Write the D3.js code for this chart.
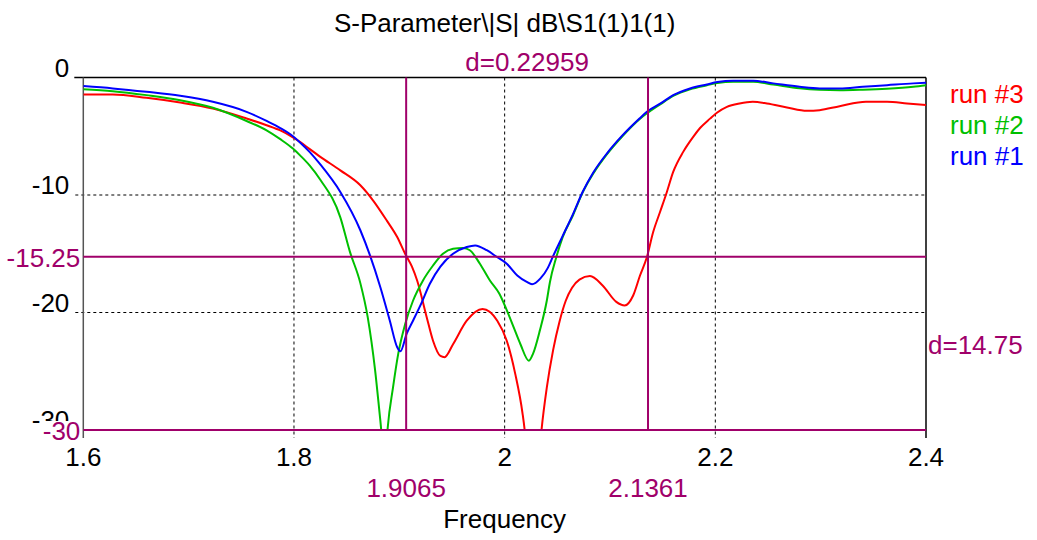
<!DOCTYPE html>
<html>
<head>
<meta charset="utf-8">
<script src="https://cdn.jsdelivr.net/npm/d3@7"></script>
<style>
    body { margin: 0; background: #fff; }
    svg text { font-family: "Liberation Sans", Arial, sans-serif; font-size: 26px; }
    .grid { stroke: #000; stroke-width: 1; stroke-dasharray: 3,3; }
    .curve { fill: none; stroke-width: 2; }
    .marker { stroke: #a0006a; stroke-width: 2; }
    .mlabel { fill: #a0006a; }
</style>
</head>
<body>
<div id="chart"></div>
<script>
/*global d3*/

var freq1 = [1.600, 1.628, 1.660, 1.692, 1.723, 1.755, 1.774, 1.787, 1.799, 1.806, 1.815, 1.825, 1.844, 1.863, 1.872, 1.882, 1.891, 1.898, 1.901, 1.907, 1.913, 1.920, 1.929, 1.939, 1.951, 1.964, 1.972, 1.983, 1.993, 2.002, 2.012, 2.021, 2.026, 2.034, 2.041, 2.046, 2.055, 2.065, 2.074, 2.084, 2.097, 2.112, 2.128, 2.135, 2.148, 2.160, 2.176, 2.192, 2.202, 2.217, 2.236, 2.255, 2.280, 2.299, 2.318, 2.340, 2.363, 2.388, 2.400];
var run1 = [-0.73, -0.93, -1.22, -1.56, -2.07, -2.92, -3.7, -4.3, -5.0, -5.55, -6.35, -7.4, -9.74, -13.0, -15.1, -17.85, -20.7, -22.96, -23.3, -21.8, -20.7, -19.4, -17.55, -16.1, -15.0, -14.43, -14.29, -14.7, -15.3, -15.85, -16.85, -17.4, -17.6, -17.1, -16.2, -15.2, -13.5, -11.6, -9.74, -8.1, -6.47, -4.91, -3.49, -2.92, -2.21, -1.5, -0.93, -0.59, -0.39, -0.28, -0.28, -0.5, -0.79, -0.93, -0.93, -0.79, -0.65, -0.5, -0.45];

var freq2 = [1.600, 1.628, 1.660, 1.692, 1.723, 1.755, 1.774, 1.787, 1.799, 1.806, 1.815, 1.825, 1.844, 1.853, 1.863, 1.870, 1.877, 1.882, 1.8865, 1.889, 1.894, 1.899, 1.9055, 1.913, 1.9225, 1.932, 1.9414, 1.951, 1.9604, 1.967, 1.9765, 1.986, 1.995, 2.002, 2.0085, 2.015, 2.023, 2.027, 2.0335, 2.040, 2.043, 2.049, 2.055, 2.065, 2.074, 2.084, 2.097, 2.112, 2.128, 2.148, 2.160, 2.176, 2.192, 2.202, 2.217, 2.236, 2.255, 2.280, 2.299, 2.318, 2.340, 2.363, 2.388, 2.400];
var run2 = [-0.99, -1.16, -1.5, -1.93, -2.58, -3.7, -4.5, -5.25, -6.05, -6.65, -7.5, -8.7, -11.9, -14.8, -17.5, -20.4, -24.9, -29.2, -33, -29.8, -26.4, -23.5, -21.0, -19.0, -17.27, -16.0, -15.0, -14.57, -14.5, -14.7, -15.85, -17.27, -18.4, -19.8, -21.25, -22.7, -24.1, -23.5, -21.5, -19.0, -17.4, -15.3, -13.6, -11.7, -9.8, -8.2, -6.55, -4.98, -3.55, -2.27, -1.57, -1.0, -0.66, -0.47, -0.36, -0.37, -0.6, -0.92, -1.05, -1.09, -1.04, -0.95, -0.78, -0.65];

var freq3 = [1.600, 1.628, 1.660, 1.692, 1.723, 1.755, 1.774, 1.787, 1.799, 1.806, 1.815, 1.825, 1.844, 1.863, 1.875, 1.888, 1.898, 1.9055, 1.912, 1.917, 1.926, 1.932, 1.939, 1.943, 1.951, 1.964, 1.979, 1.993, 2.002, 2.010, 2.017, 2.019, 2.022, 2.027, 2.032, 2.035, 2.040, 2.046, 2.052, 2.058, 2.064, 2.071, 2.081, 2.093, 2.106, 2.114, 2.122, 2.1285, 2.135, 2.141, 2.1475, 2.154, 2.160, 2.1695, 2.179, 2.1855, 2.195, 2.2015, 2.211, 2.223, 2.2355, 2.249, 2.268, 2.287, 2.299, 2.318, 2.343, 2.363, 2.382, 2.400];
var run3 = [-1.44, -1.44, -1.73, -2.13, -2.64, -3.49, -4.06, -4.5, -5.1, -5.5, -6.1, -6.75, -7.9, -9.17, -10.45, -12.16, -13.58, -15.0, -16.1, -17.3, -20.4, -22.4, -23.7, -23.8, -22.7, -20.7, -19.7, -20.7, -22.4, -25.2, -28.6, -30, -33, -38, -33, -30, -26.4, -23.2, -20.8, -19.0, -17.9, -17.2, -16.9, -17.7, -19.1, -19.4, -18.55, -16.85, -15.3, -13.15, -11.45, -9.74, -8.04, -6.33, -5.05, -4.3, -3.5, -3.0, -2.5, -2.21, -2.07, -2.21, -2.55, -2.84, -2.78, -2.44, -2.07, -2.07, -2.21, -2.35];

var seriesNames = ["run #3", "run #2", "run #1"];
var seriesColors = ["#ff0000", "#00c000", "#0000ff"];
var xTicks = [1.6, 1.8, 2, 2.2, 2.4];
var yTicks = [0, -10, -20, -30];
var markerFreqs = [1.9065, 2.1361];
var markerLevels = [-15.25, -30];
var deltaFreq = "d=0.22959";
var deltaLevel = "d=14.75";

(function () {
    "use strict";

    var width = 1037,
        height = 540,
        left = 83.3,
        right = 926,
        top = 77.5,
        bottom = 430,

        x = d3.scaleLinear().domain([1.6, 2.4]).range([left, right]),
        y = d3.scaleLinear().domain([0, -30]).range([top, bottom]),

        line = d3.line()
        .curve(d3.curveMonotoneX)
        .x(function (d) { return x(d[0]); })
        .y(function (d) { return y(d[1]); }),

        svg = d3.select("#chart").append("svg")
        .attr("width", width)
        .attr("height", height),

        series = [
            { name: seriesNames[0], color: seriesColors[0], data: d3.zip(freq3, run3) },
            { name: seriesNames[1], color: seriesColors[1], data: d3.zip(freq2, run2) },
            { name: seriesNames[2], color: seriesColors[2], data: d3.zip(freq1, run1) }
        ];

    svg.append("clipPath").attr("id", "plot")
        .append("rect")
        .attr("x", left).attr("y", top)
        .attr("width", right - left).attr("height", bottom - top);

    // grille pointillée
    svg.append("g").selectAll(".hgrid")
        .data(yTicks.slice(1, 3))
        .enter().append("line")
        .attr("class", "grid")
        .attr("x1", left - 8).attr("x2", right)
        .attr("y1", function (d) { return y(d); })
        .attr("y2", function (d) { return y(d); });
    svg.append("g").selectAll(".vgrid")
        .data(xTicks.slice(1, 4))
        .enter().append("line")
        .attr("class", "grid")
        .attr("x1", function (d) { return x(d); })
        .attr("x2", function (d) { return x(d); })
        .attr("y1", top).attr("y2", bottom + 8);

    // cadre
    svg.append("line")
        .attr("x1", left - 9).attr("x2", right)
        .attr("y1", top).attr("y2", top)
        .attr("stroke", "#000").attr("stroke-width", 1.5);
    svg.append("line")
        .attr("x1", left).attr("x2", left)
        .attr("y1", top).attr("y2", bottom + 8)
        .attr("stroke", "#555").attr("stroke-width", 1.5);
    svg.append("line")
        .attr("x1", right).attr("x2", right)
        .attr("y1", top).attr("y2", bottom + 8)
        .attr("stroke", "#000").attr("stroke-width", 1.5);

    // courbes
    svg.append("g").attr("clip-path", "url(#plot)")
        .selectAll("path")
        .data(series)
        .enter().append("path")
        .attr("class", "curve")
        .attr("stroke", function (d) { return d.color; })
        .attr("d", function (d) { return line(d.data); });

    // marqueurs
    svg.append("g").selectAll("line")
        .data(markerFreqs)
        .enter().append("line")
        .attr("class", "marker")
        .attr("x1", function (d) { return x(d); })
        .attr("x2", function (d) { return x(d); })
        .attr("y1", top).attr("y2", bottom);
    svg.append("g").selectAll("line")
        .data(markerLevels)
        .enter().append("line")
        .attr("class", "marker")
        .attr("x1", left).attr("x2", right)
        .attr("y1", function (d) { return y(d); })
        .attr("y2", function (d) { return y(d); });

    // axes
    svg.append("g").selectAll("text")
        .data(yTicks)
        .enter().append("text")
        .attr("x", left - 14)
        .attr("y", function (d) { return y(d) - 1; })
        .attr("text-anchor", "end")
        .text(function (d) { return d; });
    svg.append("g").selectAll("text")
        .data(xTicks)
        .enter().append("text")
        .attr("x", function (d) { return x(d); })
        .attr("y", 466)
        .attr("text-anchor", "middle")
        .text(function (d) { return d; });

    svg.append("g").selectAll("text")
        .data(markerFreqs)
        .enter().append("text")
        .attr("class", "mlabel")
        .attr("x", function (d) { return x(d); })
        .attr("y", 497)
        .attr("text-anchor", "middle")
        .text(function (d) { return d; });

    var lev = svg.append("g").selectAll("g")
        .data(markerLevels)
        .enter().append("g");
    lev.append("rect")
        .attr("x", 40).attr("width", 42)
        .attr("y", function (d) { return y(d) - 9; })
        .attr("height", 20)
        .attr("fill", function (d) { return d === -30 ? "#fff" : "none"; });
    lev.append("text")
        .attr("class", "mlabel")
        .attr("x", left - 3)
        .attr("y", function (d) { return y(d) + 10; })
        .attr("text-anchor", "end")
        .text(function (d) { return d; });

    svg.append("text")
        .attr("class", "mlabel")
        .attr("x", (x(markerFreqs[0]) + x(markerFreqs[1])) / 2)
        .attr("y", 71)
        .attr("text-anchor", "middle")
        .text(deltaFreq);
    svg.append("text")
        .attr("class", "mlabel")
        .attr("x", right + 2)
        .attr("y", 354)
        .text(deltaLevel);

    svg.append("text")
        .attr("x", (left + right) / 2)
        .attr("y", 32)
        .attr("text-anchor", "middle")
        .text("S-Parameter\\|S| dB\\S1(1)1(1)");
    svg.append("text")
        .attr("x", (left + right) / 2)
        .attr("y", 528)
        .attr("text-anchor", "middle")
        .text("Frequency");

    // légende
    svg.append("g").selectAll("text")
        .data(series)
        .enter().append("text")
        .attr("x", 950)
        .attr("y", function (d, i) { return 103 + i * 31; })
        .attr("fill", function (d) { return d.color; })
        .text(function (d) { return d.name; });
}());
</script>
</body>
</html>
